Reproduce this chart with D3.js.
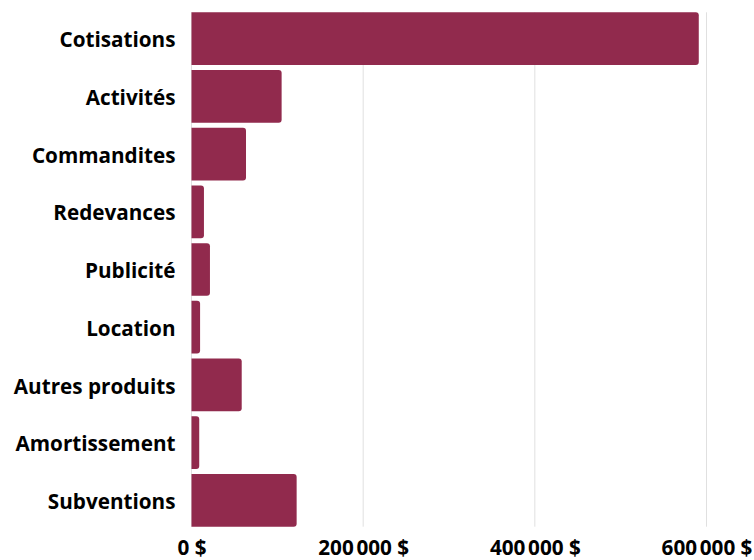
<!DOCTYPE html>
<html><head><meta charset="utf-8">
<script src="https://cdn.jsdelivr.net/npm/d3@7"></script>
<style>html,body{margin:0;padding:0;background:#fff;}svg{display:block;}</style>
</head><body>
<svg id="c" width="754" height="560"></svg>
<script>
const categories = ["Cotisations","Activités","Commandites","Redevances","Publicité","Location","Autres produits","Amortissement","Subventions"];
const values = [591000,105000,63500,14500,21500,10000,58500,9000,122500];
const tickValues = [0,200000,400000,600000];
const tickLabels = ["0 $","200\u202F000 $","400\u202F000 $","600\u202F000 $"];

const svg = d3.select("#c");
const font = "'Open Sans', 'Noto Sans', sans-serif";
const fs = 20.7;
const x = d3.scaleLinear().domain([0,600000]).range([191.5,706.5]);
const y = d3.scaleBand().domain(categories).range([9.8,529.2]).paddingInner(0.087).paddingOuter(0.0435);

const gridTop = y(categories[0]), gridBot = y(categories[categories.length-1]) + y.bandwidth();
svg.append("g").selectAll("line").data(tickValues).join("line")
  .attr("x1",d=>x(d)).attr("x2",d=>x(d)).attr("y1",gridTop).attr("y2",gridBot)
  .attr("stroke","#e0e0e0").attr("stroke-width",1);

const r = 3;
svg.append("g").selectAll("path").data(categories).join("path")
  .attr("d",(c,i)=>{
    const x0 = x(0), x1 = x(values[i]), y0 = y(c), h = y.bandwidth();
    const rr = Math.min(r,(x1-x0)/2);
    return `M${x0},${y0}H${x1-rr}Q${x1},${y0} ${x1},${y0+rr}V${y0+h-rr}Q${x1},${y0+h} ${x1-rr},${y0+h}H${x0}Z`;
  })
  .attr("fill","#912A4D");

const yAxis = d3.axisLeft(y).tickSize(0).tickPadding(16);
const gy = svg.append("g").attr("transform",`translate(${x(0)},2)`).call(yAxis);
gy.select(".domain").remove();
gy.selectAll("text").attr("font-family",font).attr("font-size",fs).attr("font-weight",700).attr("fill","#000");

const xAxis = d3.axisBottom(x).tickValues(tickValues).tickSize(0).tickPadding(14).tickFormat((d,i)=>tickLabels[i]);
const gx = svg.append("g").attr("transform",`translate(0,${gridBot})`).call(xAxis);
gx.select(".domain").remove();
gx.selectAll("text").attr("font-family",font).attr("font-size",fs).attr("font-weight",700).attr("fill","#000");
</script>
</body></html>
